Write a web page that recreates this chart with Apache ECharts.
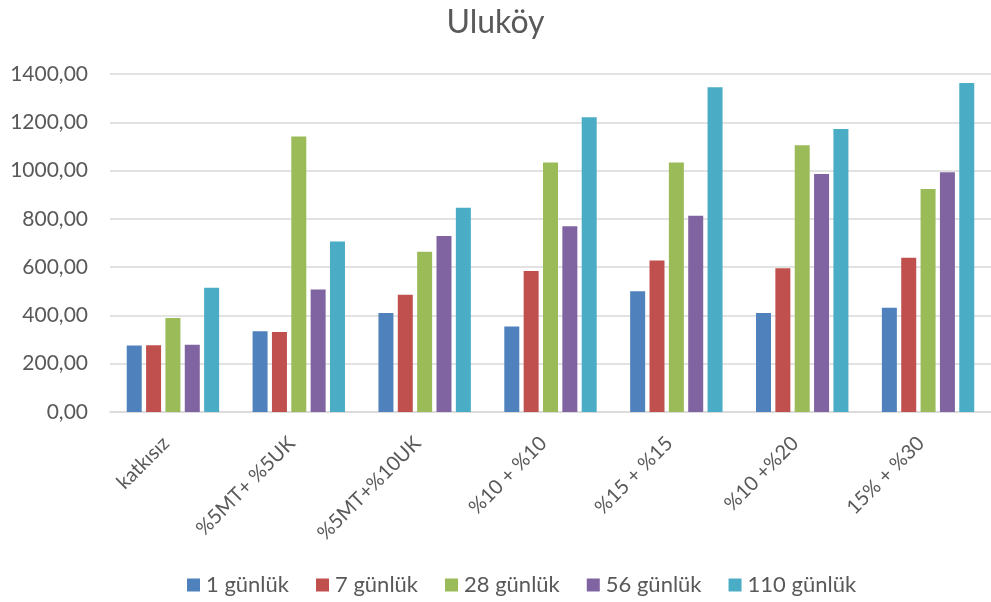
<!DOCTYPE html>
<html>
<head>
<meta charset="utf-8">
<script src="https://cdn.jsdelivr.net/npm/echarts@6/dist/echarts.min.js"></script>
<style>html,body{margin:0;padding:0;background:#fff}#c{width:991px;height:602px}</style>
</head>
<body>
<div id="c"></div>
<script>
var categories = ['katkısız', '%5MT+ %5UK', '%5MT+%10UK', '%10 + %10', '%15 + %15', '%10 +%20', '15% + %30'];
var seriesNames = ['1 günlük', '7 günlük', '28 günlük', '56 günlük', '110 günlük'];
var gun1   = [275, 334, 410, 354, 500, 410, 432];
var gun7   = [276, 331, 486, 584, 628, 595, 639];
var gun28  = [389, 1141, 664, 1033, 1033, 1105, 924];
var gun56  = [279, 507, 729, 769, 813, 986, 993];
var gun110 = [515, 706, 846, 1221, 1345, 1172, 1363];
var yTicks = [0, 200, 400, 600, 800, 1000, 1200, 1400];
var colors = ['#4F81BD', '#C0504D', '#9BBB59', '#8064A2', '#4BACC6'];

var values = [gun1, gun7, gun28, gun56, gun110];
var font = 'Lato, "Open Sans", sans-serif';
var chart = echarts.init(document.getElementById('c'));
chart.setOption({
  animation: false,
  color: colors,
  title: {
    text: 'Uluköy', left: 'center', top: 2,
    textStyle: { fontFamily: font, fontSize: 32, fontWeight: 'normal', color: '#595959' }
  },
  legend: {
    bottom: 1, left: 182, itemWidth: 13, itemHeight: 13, itemGap: 27,
    icon: 'rect',
    textStyle: { fontFamily: font, fontSize: 22, color: '#595959', padding: [0, 0, 0, 1] },
    data: seriesNames
  },
  grid: { left: 110, top: 74, width: 892, bottom: 190, containLabel: false },
  xAxis: {
    type: 'category', data: categories,
    axisLine: { lineStyle: { color: '#d9d9d9', width: 1.5 } },
    axisTick: { show: false },
    axisLabel: { rotate: 45, margin: 21, interval: 0, fontFamily: font, fontSize: 20, color: '#595959', padding: [0, 10, 0, 0] }
  },
  yAxis: {
    type: 'value', min: yTicks[0], max: yTicks[yTicks.length - 1], interval: yTicks[1] - yTicks[0],
    axisLine: { show: false }, axisTick: { show: false },
    splitLine: { lineStyle: { color: '#d9d9d9', width: 1.5 } },
    axisLabel: {
      margin: 22, fontFamily: font, fontSize: 21, color: '#595959',
      formatter: function (v) { return v.toFixed(2).replace('.', ','); }
    }
  },
  series: seriesNames.map(function (n, i) {
    return { name: n, type: 'bar', data: values[i], barWidth: 15, barGap: '29%' };
  })
});
</script>
</body>
</html>
